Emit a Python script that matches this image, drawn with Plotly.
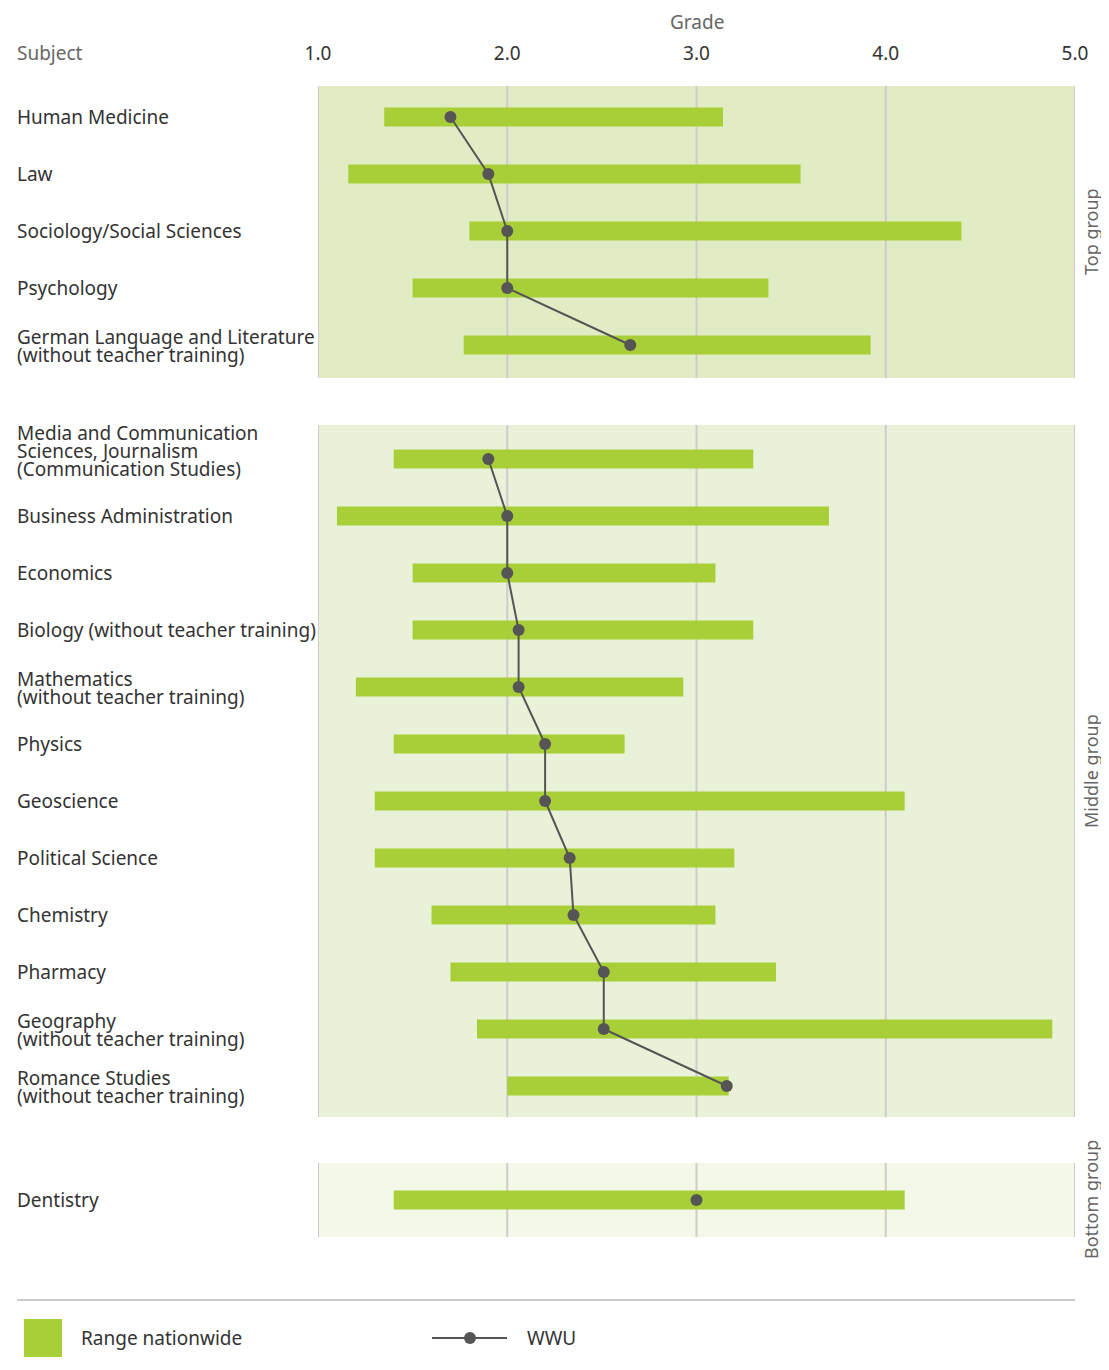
import plotly.graph_objects as go

# ---------------- data ----------------
top_subjects = ["Human Medicine", "Law", "Sociology/Social Sciences", "Psychology",
                "German Language and Literature\n(without teacher training)"]
top_min = [1.35, 1.16, 1.80, 1.50, 1.77]
top_max = [3.14, 3.55, 4.40, 3.38, 3.92]
top_wwu = [1.70, 1.90, 2.00, 2.00, 2.65]

mid_subjects = ["Media and Communication\nSciences, Journalism\n(Communication Studies)",
                "Business Administration", "Economics", "Biology (without teacher training)",
                "Mathematics\n(without teacher training)", "Physics", "Geoscience",
                "Political Science", "Chemistry", "Pharmacy",
                "Geography\n(without teacher training)",
                "Romance Studies\n(without teacher training)"]
mid_min = [1.40, 1.10, 1.50, 1.50, 1.20, 1.40, 1.30, 1.30, 1.60, 1.70, 1.84, 2.00]
mid_max = [3.30, 3.70, 3.10, 3.30, 2.93, 2.62, 4.10, 3.20, 3.10, 3.42, 4.88, 3.17]
mid_wwu = [1.90, 2.00, 2.00, 2.06, 2.06, 2.20, 2.20, 2.33, 2.35, 2.51, 2.51, 3.16]

bot_subjects = ["Dentistry"]
bot_min = [1.40]
bot_max = [4.10]
bot_wwu = [3.00]

group_names = ["Top group", "Middle group", "Bottom group"]
x_ticks = [1, 2, 3, 4, 5]
x_ticktext = ["1.0", "2.0", "3.0", "4.0", "5.0"]

groups = [
    (top_subjects, top_min, top_max, top_wwu),
    (mid_subjects, mid_min, mid_max, mid_wwu),
    (bot_subjects, bot_min, bot_max, bot_wwu),
]

# ---------------- style ----------------
FONT = "Noto Sans"
BAR = "#a8cf38"
DOT = "#555555"
GRID = "#cccccc"
PANEL = ["#e1ecc4", "#e9f2d8", "#f4f8e8"]
TXT = "#333333"
TXT2 = "#666666"

# page body has an 8px margin; work in target-screen pixels and offset
OFF = 8
W, H = 1109 - OFF, 1370 - OFF
L, R = 318 - OFF, 1075 - OFF
T, B = 86 - OFF, 1237 - OFF
ROW0, STEP = 117 - OFF, 57.0

def ypix_to_data(p):
    return (p - OFF - ROW0) / STEP

def px(x):
    return (x - OFF - L) / (R - L)

def py(y):
    return (B - (y - OFF)) / (B - T)

# row positions: groups separated by one empty row
positions = []
pos = 0
for subs, *_ in groups:
    positions.append(list(range(pos, pos + len(subs))))
    pos += len(subs) + 1

panel_pix = [(86, 378), (425, 1117), (1163, 1237)]

fig = go.Figure()
shapes = []
annotations = []

for gi, (subs, mn, mx, ww) in enumerate(groups):
    ys = positions[gi]
    y0 = ypix_to_data(panel_pix[gi][0])
    y1 = ypix_to_data(panel_pix[gi][1])
    shapes.append(dict(type="rect", xref="x", yref="y", x0=1, x1=5, y0=y0, y1=y1,
                       fillcolor=PANEL[gi], line=dict(width=0), layer="below"))
    for xv in x_ticks:
        shapes.append(dict(type="line", xref="x", yref="y", x0=xv, x1=xv, y0=y0, y1=y1,
                           line=dict(color=GRID, width=2), layer="below"))
    fig.add_trace(go.Bar(
        orientation="h", y=ys, base=mn, x=[b - a for a, b in zip(mn, mx)],
        width=19 / STEP, marker=dict(color=BAR, line=dict(width=0)),
        showlegend=False, hoverinfo="skip"))
    fig.add_trace(go.Scatter(
        x=ww, y=ys, mode="lines+markers",
        line=dict(color=DOT, width=2), marker=dict(color=DOT, size=12),
        showlegend=False, hoverinfo="skip"))
    # subject labels
    for s, yv in zip(subs, ys):
        lines = s.split("\n")
        n = len(lines)
        for li, t in enumerate(lines):
            shift = 0 if n == 1 else (10 - 18 * (n - 1 - li))
            annotations.append(dict(
                text=t, xref="paper", x=px(15), xanchor="left",
                yref="y", y=yv, yshift=-shift, yanchor="middle", showarrow=False,
                font=dict(family=FONT, size=19, color=TXT)))
    # group label
    annotations.append(dict(
        text=group_names[gi], xref="paper", x=px(1091), xanchor="center",
        yref="y", y=(y0 + y1) / 2, yanchor="middle", textangle=-90, showarrow=False,
        font=dict(family=FONT, size=18, color=TXT2)))

# header texts
annotations.append(dict(text="Subject", xref="paper", x=px(15), xanchor="left",
                        yref="paper", y=py(53), yanchor="middle", showarrow=False,
                        font=dict(family=FONT, size=19, color=TXT2)))
annotations.append(dict(text="Grade", xref="paper", x=0.5, xanchor="center",
                        yref="paper", y=py(22), yanchor="middle", showarrow=False,
                        font=dict(family=FONT, size=19, color=TXT2)))

# legend (drawn manually)
shapes.append(dict(type="line", xref="paper", yref="paper", x0=px(17), x1=px(1075),
                   y0=py(1300), y1=py(1300), line=dict(color=GRID, width=2)))
shapes.append(dict(type="rect", xref="paper", yref="paper", x0=px(24), x1=px(62),
                   y0=py(1357), y1=py(1319), fillcolor=BAR, line=dict(width=0)))
shapes.append(dict(type="line", xref="paper", yref="paper", x0=px(432), x1=px(507),
                   y0=py(1338), y1=py(1338), line=dict(color=DOT, width=2)))
shapes.append(dict(type="circle", xref="paper", yref="paper", x0=px(464), x1=px(476),
                   y0=py(1344), y1=py(1332), fillcolor=DOT, line=dict(width=0)))
annotations.append(dict(text="Range nationwide", xref="paper", x=px(79), xanchor="left",
                        yref="paper", y=py(1338), yanchor="middle", showarrow=False,
                        font=dict(family=FONT, size=19, color=TXT)))
annotations.append(dict(text="WWU", xref="paper", x=px(525), xanchor="left",
                        yref="paper", y=py(1338), yanchor="middle", showarrow=False,
                        font=dict(family=FONT, size=19, color=TXT)))

fig.update_layout(
    width=W, height=H,
    margin=dict(l=L, r=W - R, t=T, b=H - B, pad=0),
    paper_bgcolor="white", plot_bgcolor="white",
    barmode="overlay", shapes=shapes, annotations=annotations,
    font=dict(family=FONT, color=TXT),
    xaxis=dict(range=[1, 5], side="top", tickvals=x_ticks, ticktext=x_ticktext,
               showgrid=False, zeroline=False, showline=False,
               ticks="outside", ticklen=17, tickcolor="rgba(0,0,0,0)",
               tickfont=dict(family=FONT, size=19, color=TXT), fixedrange=True),
    yaxis=dict(range=[ypix_to_data(1237), ypix_to_data(86)], visible=False,
               showgrid=False, zeroline=False, fixedrange=True),
)

fig.write_html("out.html")
